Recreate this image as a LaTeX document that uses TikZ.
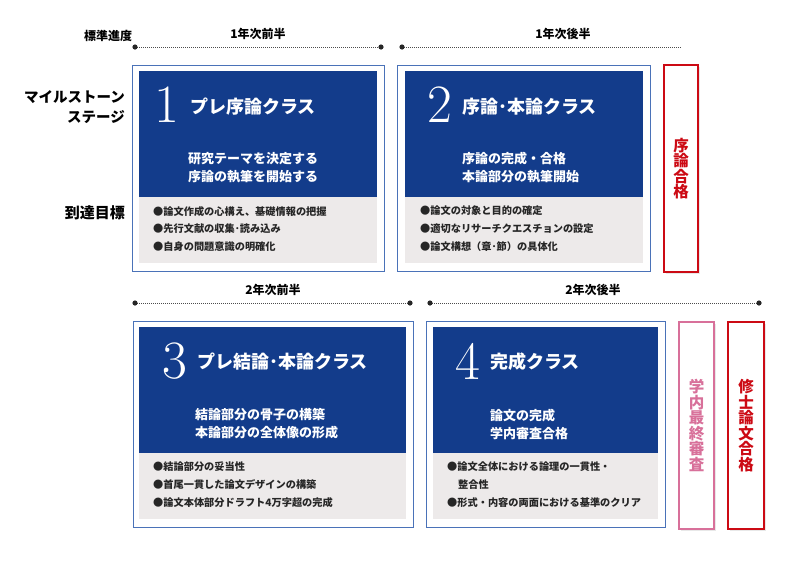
\documentclass[tikz,border=0pt]{standalone}
\usepackage{fontspec}
\newfontfamily\jpfont{Noto Sans CJK JP}
\usetikzlibrary{shadows}
\definecolor{navy}{HTML}{133C8B}
\definecolor{paper}{HTML}{EDEAEA}
\definecolor{frame}{HTML}{4A72B8}
\definecolor{passred}{HTML}{CC0A14}
\definecolor{passpink}{HTML}{D8709A}
\tikzset{
  stagebox/.style={draw=frame,line width=0.9pt,anchor=north west,inner sep=0pt,minimum height=206,minimum width=#1},
  headbox/.style={fill=navy,anchor=north west,inner sep=0pt,minimum height=126,minimum width=#1},
  goalbox/.style={fill=paper,anchor=north west,inner sep=0pt,minimum height=66,minimum width=#1},
  passbox/.style={draw=#1,line width=2pt,fill=white,anchor=north west,inner sep=0pt,minimum height=207,
    drop shadow={opacity=0.18,shadow xshift=1.5pt,shadow yshift=-1.5pt}},
  passtext/.style={text=#1,font=\jpfont\bfseries\fontsize{15.5}{15.5}\selectfont,align=center,inner sep=0pt},
  stagenum/.style={text=white,font=\rmfamily\fontsize{54}{54}\selectfont,inner sep=0pt},
  stagetitle/.style={text=white,font=\jpfont\bfseries\fontsize{18}{18}\selectfont,anchor=west,inner sep=0pt},
  stageaim/.style={text=white,font=\jpfont\bfseries\fontsize{13}{18}\selectfont,anchor=west,align=left,inner sep=0pt},
  goallist/.style={text=black!85,font=\jpfont\bfseries\fontsize{10.2}{17.6}\selectfont,anchor=north west,align=left,inner sep=0pt},
  sidelabel/.style={font=\jpfont\bfseries\fontsize{14.5}{20}\selectfont,anchor=east,align=right,inner sep=0pt},
  termlabel/.style={font=\jpfont\bfseries\fontsize{12}{12}\selectfont,inner sep=0pt},
  timeline/.style={draw=black!70,line width=0.8pt,dash pattern=on 1pt off 1pt},
  dot/.style={fill=black!85}
}
\begin{document}
\begin{tikzpicture}[x=1pt,y=-1pt]
  \useasboundingbox (0,0) rectangle (800,566);

  % left labels
  \node [termlabel] (pace) at (108,36) {標準進度};
  \node [sidelabel] (milestone) at (125,107) {マイルストーン\\ステージ};
  \node [sidelabel,font=\jpfont\bfseries\fontsize{15}{15}\selectfont] (target) at (125,213) {到達目標};

  % time lines
  \coordinate (t1a) at (135,47);
  \coordinate (t1b) at (381,47);
  \coordinate (t2a) at (402,47);
  \coordinate (t2b) at (682,47);
  \coordinate (t3a) at (135,303);
  \coordinate (t3b) at (410,303);
  \coordinate (t4a) at (430,303);
  \coordinate (t4b) at (759,303);
  \draw [timeline] (t1a) -- (t1b);
  \draw [timeline] (t2a) -- (t2b);
  \draw [timeline] (t3a) -- (t3b);
  \draw [timeline] (t4a) -- (t4b);
  \foreach \p in {t1a,t1b,t2a,t3a,t3b,t4a,t4b}
    \fill [dot] (\p) circle (2.6);
  \node [termlabel] (term1) at (258,34) {1年次前半};
  \node [termlabel] (term2) at (563,34) {1年次後半};
  \node [termlabel] (term3) at (273,290) {2年次前半};
  \node [termlabel] (term4) at (593,290) {2年次後半};

  % stage 1
  \node [stagebox=252] (S1) at (132,65) {};
  \node [headbox=238] (H1) at (139,71) {};
  \node [goalbox=238] (G1) at (139,197) {};
  \node [stagenum] (N1) at (167,105) {1};
  \node [stagetitle] (T1) at (190,107) {プレ序論クラス};
  \node [stageaim] (A1) at (188,168) {研究テーマを決定する\\序論の執筆を開始する};
  \node [goallist] (L1) at (153,206) {●論文作成の心構え、基礎情報の把握\\●先行文献の収集･読み込み\\●自身の問題意識の明確化};

  % stage 2
  \node [stagebox=253] (S2) at (397,65) {};
  \node [headbox=238] (H2) at (405,71) {};
  \node [goalbox=238] (G2) at (405,197) {};
  \node [stagenum] (N2) at (440,105) {2};
  \node [stagetitle] (T2) at (462,107) {序論･本論クラス};
  \node [stageaim] (A2) at (462,168) {序論の完成・合格\\本論部分の執筆開始};
  \node [goallist] (L2) at (420,206) {●論文の対象と目的の確定\\●適切なリサーチクエスチョンの設定\\●論文構想（章･節）の具体化};

  % stage 3
  \node [stagebox=280] (S3) at (133,321) {};
  \node [headbox=267] (H3) at (139,327) {};
  \node [goalbox=267] (G3) at (139,453) {};
  \node [stagenum] (N3) at (175,361) {3};
  \node [stagetitle] (T3) at (197,362) {プレ結論･本論クラス};
  \node [stageaim] (A3) at (195,424) {結論部分の骨子の構築\\本論部分の全体像の形成};
  \node [goallist] (L3) at (153,462) {●結論部分の妥当性\\●首尾一貫した論文デザインの構築\\●論文本体部分ドラフト4万字超の完成};

  % stage 4
  \node [stagebox=239] (S4) at (426,321) {};
  \node [headbox=225] (H4) at (433,327) {};
  \node [goalbox=225] (G4) at (433,453) {};
  \node [stagenum] (N4) at (468,361) {4};
  \node [stagetitle] (T4) at (490,362) {完成クラス};
  \node [stageaim] (A4) at (490,424) {論文の完成\\学内審査合格};
  \node [goallist] (L4) at (447,462) {●論文全体における論理の一貫性・\\\hspace*{11pt}整合性\\●形式・内容の両面における基準のクリア};

  % passes
  \node [passbox=passred,minimum width=34] (P1) at (663,64) {};
  \node [passtext=passred] at (P1.center) {序\\論\\合\\格};
  \node [passbox=passpink,minimum width=35] (P2) at (678,321) {};
  \node [passtext=passpink] at (P2.center) {学\\内\\最\\終\\審\\査};
  \node [passbox=passred,minimum width=36] (P3) at (727,321) {};
  \node [passtext=passred] at (P3.center) {修\\士\\論\\文\\合\\格};
\end{tikzpicture}
\end{document}
